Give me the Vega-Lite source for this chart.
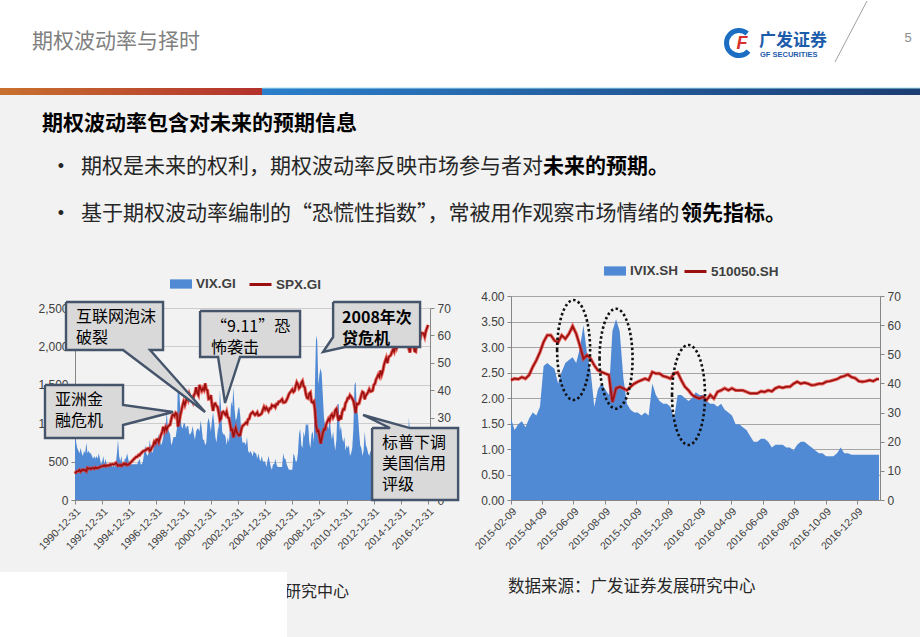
{
"$schema":"https://vega.github.io/schema/vega-lite/v6.json",
"background":"#f2f2f2",
"padding":0,
"spacing":81,
"bounds":"flush",
"config":{"view":{"stroke":null},"font":"Noto Sans CJK SC","axis":{"labelFont":"Liberation Sans","labelColor":"#404040","domainColor":"#868686","tickColor":"#868686","labelFontSize":12,"tickSize":4},"axisX":{"labelOverlap":false},"legend":{"labelFont":"Liberation Sans","labelFontWeight":"bold","labelFontSize":13.5,"labelColor":"#404040"}},
"datasets":{
"spx":[
{"d":"1991-01","s":343,"v":25},{"d":"1991-02","s":367,"v":21},{"d":"1991-03","s":375,"v":19},{"d":"1991-04","s":375,"v":18},{"d":"1991-05","s":390,"v":17},{"d":"1991-06","s":371,"v":19},{"d":"1991-07","s":388,"v":17},{"d":"1991-08","s":395,"v":16},{"d":"1991-09","s":388,"v":18},{"d":"1991-10","s":392,"v":17},{"d":"1991-11","s":375,"v":21},{"d":"1991-12","s":417,"v":17},
{"d":"1992-01","s":409,"v":18},{"d":"1992-02","s":413,"v":17},{"d":"1992-03","s":404,"v":17},{"d":"1992-04","s":415,"v":16},{"d":"1992-05","s":415,"v":15},{"d":"1992-06","s":408,"v":16},{"d":"1992-07","s":424,"v":15},{"d":"1992-08","s":414,"v":16},{"d":"1992-09","s":418,"v":15},{"d":"1992-10","s":419,"v":17},{"d":"1992-11","s":431,"v":15},{"d":"1992-12","s":436,"v":13},
{"d":"1993-01","s":439,"v":14},{"d":"1993-02","s":443,"v":16},{"d":"1993-03","s":452,"v":13},{"d":"1993-04","s":440,"v":15},{"d":"1993-05","s":450,"v":13},{"d":"1993-06","s":451,"v":13},{"d":"1993-07","s":448,"v":12},{"d":"1993-08","s":464,"v":13},{"d":"1993-09","s":459,"v":13},{"d":"1993-10","s":468,"v":12},{"d":"1993-11","s":462,"v":13},{"d":"1993-12","s":466,"v":12},
{"d":"1994-01","s":482,"v":13},{"d":"1994-02","s":467,"v":17},{"d":"1994-03","s":446,"v":22},{"d":"1994-04","s":451,"v":16},{"d":"1994-05","s":457,"v":14},{"d":"1994-06","s":444,"v":16},{"d":"1994-07","s":458,"v":13},{"d":"1994-08","s":475,"v":13},{"d":"1994-09","s":463,"v":15},{"d":"1994-10","s":472,"v":15},{"d":"1994-11","s":454,"v":17},{"d":"1994-12","s":459,"v":15},
{"d":"1995-01","s":470,"v":13},{"d":"1995-02","s":487,"v":13},{"d":"1995-03","s":501,"v":13},{"d":"1995-04","s":515,"v":13},{"d":"1995-05","s":533,"v":13},{"d":"1995-06","s":545,"v":13},{"d":"1995-07","s":562,"v":13},{"d":"1995-08","s":562,"v":13},{"d":"1995-09","s":584,"v":14},{"d":"1995-10","s":582,"v":15},{"d":"1995-11","s":605,"v":13},{"d":"1995-12","s":616,"v":13},
{"d":"1996-01","s":636,"v":14},{"d":"1996-02","s":640,"v":17},{"d":"1996-03","s":646,"v":20},{"d":"1996-04","s":654,"v":17},{"d":"1996-05","s":669,"v":16},{"d":"1996-06","s":671,"v":17},{"d":"1996-07","s":640,"v":22},{"d":"1996-08","s":652,"v":19},{"d":"1996-09","s":687,"v":17},{"d":"1996-10","s":705,"v":18},{"d":"1996-11","s":757,"v":21},{"d":"1996-12","s":741,"v":22},
{"d":"1997-01","s":786,"v":21},{"d":"1997-02","s":791,"v":22},{"d":"1997-03","s":757,"v":24},{"d":"1997-04","s":801,"v":22},{"d":"1997-05","s":848,"v":20},{"d":"1997-06","s":885,"v":21},{"d":"1997-07","s":954,"v":23},{"d":"1997-08","s":899,"v":26},{"d":"1997-09","s":947,"v":24},{"d":"1997-10","s":915,"v":33},{"d":"1997-11","s":955,"v":26},{"d":"1997-12","s":970,"v":25},
{"d":"1998-01","s":980,"v":24},{"d":"1998-02","s":1049,"v":20},{"d":"1998-03","s":1102,"v":21},{"d":"1998-04","s":1112,"v":23},{"d":"1998-05","s":1091,"v":23},{"d":"1998-06","s":1134,"v":23},{"d":"1998-07","s":1121,"v":26},{"d":"1998-08","s":957,"v":44},{"d":"1998-09","s":1017,"v":41},{"d":"1998-10","s":1099,"v":33},{"d":"1998-11","s":1164,"v":27},{"d":"1998-12","s":1229,"v":26},
{"d":"1999-01","s":1280,"v":28},{"d":"1999-02","s":1238,"v":28},{"d":"1999-03","s":1286,"v":26},{"d":"1999-04","s":1335,"v":27},{"d":"1999-05","s":1302,"v":27},{"d":"1999-06","s":1373,"v":24},{"d":"1999-07","s":1329,"v":24},{"d":"1999-08","s":1320,"v":25},{"d":"1999-09","s":1283,"v":27},{"d":"1999-10","s":1363,"v":24},{"d":"1999-11","s":1389,"v":22},{"d":"1999-12","s":1469,"v":25},
{"d":"2000-01","s":1394,"v":26},{"d":"2000-02","s":1366,"v":26},{"d":"2000-03","s":1499,"v":25},{"d":"2000-04","s":1452,"v":29},{"d":"2000-05","s":1421,"v":26},{"d":"2000-06","s":1455,"v":22},{"d":"2000-07","s":1431,"v":22},{"d":"2000-08","s":1518,"v":20},{"d":"2000-09","s":1437,"v":21},{"d":"2000-10","s":1429,"v":28},{"d":"2000-11","s":1315,"v":30},{"d":"2000-12","s":1320,"v":28},
{"d":"2001-01","s":1366,"v":25},{"d":"2001-02","s":1240,"v":29},{"d":"2001-03","s":1160,"v":32},{"d":"2001-04","s":1249,"v":28},{"d":"2001-05","s":1256,"v":23},{"d":"2001-06","s":1224,"v":21},{"d":"2001-07","s":1211,"v":25},{"d":"2001-08","s":1134,"v":27},{"d":"2001-09","s":1041,"v":40},{"d":"2001-10","s":1060,"v":34},{"d":"2001-11","s":1139,"v":25},{"d":"2001-12","s":1148,"v":24},
{"d":"2002-01","s":1130,"v":24},{"d":"2002-02","s":1107,"v":23},{"d":"2002-03","s":1147,"v":20},{"d":"2002-04","s":1077,"v":23},{"d":"2002-05","s":1067,"v":21},{"d":"2002-06","s":990,"v":27},{"d":"2002-07","s":912,"v":36},{"d":"2002-08","s":916,"v":34},{"d":"2002-09","s":815,"v":41},{"d":"2002-10","s":886,"v":33},{"d":"2002-11","s":936,"v":29},{"d":"2002-12","s":880,"v":30},
{"d":"2003-01","s":856,"v":33},{"d":"2003-02","s":841,"v":34},{"d":"2003-03","s":848,"v":31},{"d":"2003-04","s":917,"v":24},{"d":"2003-05","s":964,"v":21},{"d":"2003-06","s":975,"v":21},{"d":"2003-07","s":990,"v":21},{"d":"2003-08","s":1008,"v":20},{"d":"2003-09","s":996,"v":23},{"d":"2003-10","s":1051,"v":18},{"d":"2003-11","s":1058,"v":17},{"d":"2003-12","s":1112,"v":18},
{"d":"2004-01","s":1131,"v":17},{"d":"2004-02","s":1145,"v":16},{"d":"2004-03","s":1126,"v":18},{"d":"2004-04","s":1107,"v":17},{"d":"2004-05","s":1121,"v":17},{"d":"2004-06","s":1141,"v":15},{"d":"2004-07","s":1102,"v":17},{"d":"2004-08","s":1104,"v":15},{"d":"2004-09","s":1115,"v":14},{"d":"2004-10","s":1130,"v":16},{"d":"2004-11","s":1174,"v":14},{"d":"2004-12","s":1212,"v":14},
{"d":"2005-01","s":1181,"v":14},{"d":"2005-02","s":1204,"v":12},{"d":"2005-03","s":1181,"v":14},{"d":"2005-04","s":1157,"v":16},{"d":"2005-05","s":1192,"v":14},{"d":"2005-06","s":1191,"v":12},{"d":"2005-07","s":1234,"v":11},{"d":"2005-08","s":1220,"v":13},{"d":"2005-09","s":1229,"v":13},{"d":"2005-10","s":1207,"v":15},{"d":"2005-11","s":1249,"v":13},{"d":"2005-12","s":1248,"v":12},
{"d":"2006-01","s":1280,"v":12},{"d":"2006-02","s":1281,"v":12},{"d":"2006-03","s":1295,"v":12},{"d":"2006-04","s":1311,"v":12},{"d":"2006-05","s":1270,"v":17},{"d":"2006-06","s":1270,"v":15},{"d":"2006-07","s":1277,"v":15},{"d":"2006-08","s":1304,"v":13},{"d":"2006-09","s":1336,"v":12},{"d":"2006-10","s":1378,"v":11},{"d":"2006-11","s":1401,"v":11},{"d":"2006-12","s":1418,"v":11},
{"d":"2007-01","s":1438,"v":11},{"d":"2007-02","s":1407,"v":17},{"d":"2007-03","s":1421,"v":16},{"d":"2007-04","s":1482,"v":14},{"d":"2007-05","s":1531,"v":14},{"d":"2007-06","s":1503,"v":17},{"d":"2007-07","s":1455,"v":24},{"d":"2007-08","s":1474,"v":26},{"d":"2007-09","s":1527,"v":20},{"d":"2007-10","s":1549,"v":19},{"d":"2007-11","s":1481,"v":25},{"d":"2007-12","s":1468,"v":23},
{"d":"2008-01","s":1379,"v":28},{"d":"2008-02","s":1331,"v":27},{"d":"2008-03","s":1323,"v":28},{"d":"2008-04","s":1386,"v":21},{"d":"2008-05","s":1400,"v":19},{"d":"2008-06","s":1280,"v":24},{"d":"2008-07","s":1267,"v":25},{"d":"2008-08","s":1283,"v":21},{"d":"2008-09","s":1166,"v":42},{"d":"2008-10","s":969,"v":60},{"d":"2008-11","s":896,"v":58},{"d":"2008-12","s":903,"v":42},
{"d":"2009-01","s":826,"v":46},{"d":"2009-02","s":735,"v":48},{"d":"2009-03","s":798,"v":46},{"d":"2009-04","s":873,"v":38},{"d":"2009-05","s":919,"v":30},{"d":"2009-06","s":919,"v":27},{"d":"2009-07","s":987,"v":26},{"d":"2009-08","s":1021,"v":27},{"d":"2009-09","s":1057,"v":26},{"d":"2009-10","s":1036,"v":30},{"d":"2009-11","s":1096,"v":25},{"d":"2009-12","s":1115,"v":22},
{"d":"2010-01","s":1074,"v":25},{"d":"2010-02","s":1104,"v":21},{"d":"2010-03","s":1169,"v":18},{"d":"2010-04","s":1187,"v":22},{"d":"2010-05","s":1089,"v":35},{"d":"2010-06","s":1031,"v":35},{"d":"2010-07","s":1102,"v":25},{"d":"2010-08","s":1049,"v":27},{"d":"2010-09","s":1141,"v":23},{"d":"2010-10","s":1183,"v":21},{"d":"2010-11","s":1181,"v":23},{"d":"2010-12","s":1258,"v":18},
{"d":"2011-01","s":1286,"v":20},{"d":"2011-02","s":1327,"v":19},{"d":"2011-03","s":1326,"v":20},{"d":"2011-04","s":1364,"v":16},{"d":"2011-05","s":1345,"v":17},{"d":"2011-06","s":1321,"v":19},{"d":"2011-07","s":1292,"v":26},{"d":"2011-08","s":1219,"v":42},{"d":"2011-09","s":1131,"v":43},{"d":"2011-10","s":1253,"v":33},{"d":"2011-11","s":1247,"v":31},{"d":"2011-12","s":1258,"v":25},
{"d":"2012-01","s":1312,"v":20},{"d":"2012-02","s":1366,"v":19},{"d":"2012-03","s":1408,"v":16},{"d":"2012-04","s":1398,"v":18},{"d":"2012-05","s":1310,"v":25},{"d":"2012-06","s":1362,"v":20},{"d":"2012-07","s":1379,"v":19},{"d":"2012-08","s":1407,"v":17},{"d":"2012-09","s":1441,"v":16},{"d":"2012-10","s":1412,"v":18},{"d":"2012-11","s":1416,"v":17},{"d":"2012-12","s":1426,"v":20},
{"d":"2013-01","s":1498,"v":14},{"d":"2013-02","s":1515,"v":16},{"d":"2013-03","s":1569,"v":14},{"d":"2013-04","s":1598,"v":15},{"d":"2013-05","s":1631,"v":17},{"d":"2013-06","s":1606,"v":19},{"d":"2013-07","s":1686,"v":14},{"d":"2013-08","s":1633,"v":17},{"d":"2013-09","s":1682,"v":17},{"d":"2013-10","s":1757,"v":16},{"d":"2013-11","s":1806,"v":13},{"d":"2013-12","s":1848,"v":15},
{"d":"2014-01","s":1783,"v":19},{"d":"2014-02","s":1859,"v":15},{"d":"2014-03","s":1872,"v":15},{"d":"2014-04","s":1884,"v":15},{"d":"2014-05","s":1924,"v":12},{"d":"2014-06","s":1960,"v":12},{"d":"2014-07","s":1931,"v":17},{"d":"2014-08","s":2003,"v":13},{"d":"2014-09","s":1972,"v":16},{"d":"2014-10","s":2018,"v":22},{"d":"2014-11","s":2068,"v":13},{"d":"2014-12","s":2059,"v":20},
{"d":"2015-01","s":1995,"v":21},{"d":"2015-02","s":2105,"v":15},{"d":"2015-03","s":2068,"v":16},{"d":"2015-04","s":2086,"v":14},{"d":"2015-05","s":2107,"v":14},{"d":"2015-06","s":2063,"v":18},{"d":"2015-07","s":2104,"v":15},{"d":"2015-08","s":1972,"v":30},{"d":"2015-09","s":1920,"v":25},{"d":"2015-10","s":2079,"v":16},{"d":"2015-11","s":2080,"v":17},{"d":"2015-12","s":2044,"v":19},
{"d":"2016-01","s":1940,"v":23},{"d":"2016-02","s":1932,"v":24},{"d":"2016-03","s":2060,"v":15},{"d":"2016-04","s":2065,"v":16},{"d":"2016-05","s":2097,"v":15},{"d":"2016-06","s":2099,"v":20},{"d":"2016-07","s":2174,"v":13},{"d":"2016-08","s":2171,"v":13},{"d":"2016-09","s":2168,"v":15},{"d":"2016-10","s":2126,"v":19},{"d":"2016-11","s":2199,"v":15},{"d":"2016-12","s":2239,"v":14},
{"d":"2017-01","s":2279,"v":11}
],
"ivix":[
{"d":"2015-02-09","p":2.35,"v":28},{"d":"2015-02-16","p":2.38,"v":24},{"d":"2015-02-23","p":2.37,"v":26},{"d":"2015-03-02","p":2.41,"v":27},{"d":"2015-03-09","p":2.38,"v":25},{"d":"2015-03-16","p":2.45,"v":28},{"d":"2015-03-23","p":2.61,"v":30},{"d":"2015-03-30","p":2.74,"v":29},{"d":"2015-04-06","p":2.90,"v":32},{"d":"2015-04-13","p":3.10,"v":46},{"d":"2015-04-20","p":3.23,"v":47},{"d":"2015-04-27","p":3.23,"v":46},{"d":"2015-05-04","p":3.13,"v":45},{"d":"2015-05-11","p":3.09,"v":40},{"d":"2015-05-18","p":3.23,"v":44},{"d":"2015-05-25","p":3.16,"v":47},{"d":"2015-06-01","p":3.26,"v":48},{"d":"2015-06-08","p":3.41,"v":49},{"d":"2015-06-15","p":3.26,"v":47},{"d":"2015-06-22","p":3.03,"v":52},{"d":"2015-06-29","p":2.77,"v":60},{"d":"2015-07-06","p":2.84,"v":50},{"d":"2015-07-13","p":2.77,"v":44},{"d":"2015-07-20","p":2.64,"v":32},{"d":"2015-07-27","p":2.54,"v":38},{"d":"2015-08-03","p":2.51,"v":40},{"d":"2015-08-10","p":2.48,"v":38},{"d":"2015-08-17","p":2.45,"v":36},{"d":"2015-08-24","p":1.92,"v":58},{"d":"2015-08-31","p":2.19,"v":62},{"d":"2015-09-07","p":2.22,"v":58},{"d":"2015-09-14","p":2.19,"v":42},{"d":"2015-09-21","p":2.15,"v":33},{"d":"2015-09-28","p":2.22,"v":31},{"d":"2015-10-05","p":2.28,"v":30},{"d":"2015-10-12","p":2.32,"v":30},{"d":"2015-10-19","p":2.35,"v":29},{"d":"2015-10-26","p":2.38,"v":30},{"d":"2015-11-02","p":2.35,"v":29},{"d":"2015-11-09","p":2.51,"v":40},{"d":"2015-11-16","p":2.48,"v":36},{"d":"2015-11-23","p":2.48,"v":34},{"d":"2015-11-30","p":2.43,"v":33},{"d":"2015-12-07","p":2.41,"v":33},{"d":"2015-12-14","p":2.38,"v":32},{"d":"2015-12-21","p":2.48,"v":28},{"d":"2015-12-28","p":2.50,"v":36},
{"d":"2016-01-04","p":2.35,"v":36},{"d":"2016-01-11","p":2.22,"v":35},{"d":"2016-01-18","p":2.15,"v":34},{"d":"2016-01-25","p":2.06,"v":35},{"d":"2016-02-01","p":2.02,"v":37},{"d":"2016-02-08","p":1.99,"v":36},{"d":"2016-02-15","p":2.02,"v":36},{"d":"2016-02-22","p":1.96,"v":34},{"d":"2016-02-29","p":2.06,"v":33},{"d":"2016-03-07","p":1.99,"v":33},{"d":"2016-03-14","p":2.12,"v":32},{"d":"2016-03-21","p":2.15,"v":33},{"d":"2016-03-28","p":2.19,"v":31},{"d":"2016-04-04","p":2.15,"v":30},{"d":"2016-04-11","p":2.19,"v":29},{"d":"2016-04-18","p":2.15,"v":26},{"d":"2016-04-25","p":2.15,"v":26},{"d":"2016-05-02","p":2.15,"v":25},{"d":"2016-05-09","p":2.12,"v":24},{"d":"2016-05-16","p":2.09,"v":22},{"d":"2016-05-23","p":2.09,"v":20},{"d":"2016-05-30","p":2.09,"v":20},{"d":"2016-06-06","p":2.13,"v":21},{"d":"2016-06-13","p":2.12,"v":21},{"d":"2016-06-20","p":2.15,"v":20},{"d":"2016-06-27","p":2.13,"v":18},{"d":"2016-07-04","p":2.19,"v":19},{"d":"2016-07-11","p":2.22,"v":19},{"d":"2016-07-18","p":2.20,"v":19},{"d":"2016-07-25","p":2.22,"v":18},{"d":"2016-08-01","p":2.22,"v":18},{"d":"2016-08-08","p":2.28,"v":17},{"d":"2016-08-15","p":2.32,"v":19},{"d":"2016-08-22","p":2.28,"v":20},{"d":"2016-08-29","p":2.30,"v":20},{"d":"2016-09-05","p":2.28,"v":19},{"d":"2016-09-12","p":2.25,"v":18},{"d":"2016-09-19","p":2.26,"v":17},{"d":"2016-09-26","p":2.28,"v":16},{"d":"2016-10-03","p":2.28,"v":16},{"d":"2016-10-10","p":2.32,"v":15},{"d":"2016-10-17","p":2.33,"v":15},{"d":"2016-10-24","p":2.35,"v":15},{"d":"2016-10-31","p":2.37,"v":16},{"d":"2016-11-07","p":2.41,"v":18},{"d":"2016-11-14","p":2.43,"v":16},{"d":"2016-11-21","p":2.46,"v":16},{"d":"2016-11-28","p":2.41,"v":15.5},{"d":"2016-12-05","p":2.39,"v":15.5},{"d":"2016-12-12","p":2.33,"v":15.5},{"d":"2016-12-19","p":2.32,"v":15.5},{"d":"2016-12-26","p":2.33,"v":15.5},{"d":"2017-01-02","p":2.35,"v":15.5},{"d":"2017-01-09","p":2.33,"v":15.5},{"d":"2017-01-16","p":2.37,"v":15.5},{"d":"2017-01-20","p":2.37,"v":15.5}
],
"callouts":[
{"g":1,"o":0,"d":"1990-05-03","s":2578},{"g":1,"o":1,"d":"1997-06-25","s":2578},{"g":1,"o":2,"d":"1997-06-25","s":1953},{"g":1,"o":3,"d":"1996-07-10","s":1953},{"g":1,"o":4,"d":"2000-07-29","s":1146},{"g":1,"o":5,"d":"1994-07-15","s":1953},{"g":1,"o":6,"d":"1990-05-03","s":1953},{"g":1,"o":7,"d":"1990-05-03","s":2578},
{"g":2,"o":0,"d":"2000-03-17","s":2461},{"g":2,"o":1,"d":"2007-07-28","s":2461},{"g":2,"o":2,"d":"2007-07-28","s":1862},{"g":2,"o":3,"d":"2003-02-25","s":1862},{"g":2,"o":4,"d":"2002-01-18","s":1263},{"g":2,"o":5,"d":"2001-07-14","s":1862},{"g":2,"o":6,"d":"2000-03-17","s":1862},{"g":2,"o":7,"d":"2000-03-17","s":2461},
{"g":3,"o":0,"d":"2010-01-02","s":2578},{"g":3,"o":1,"d":"2016-05-29","s":2578},{"g":3,"o":2,"d":"2016-05-29","s":1992},{"g":3,"o":3,"d":"2010-11-20","s":1992},{"g":3,"o":4,"d":"2009-04-07","s":1927},{"g":3,"o":5,"d":"2010-01-02","s":2122},{"g":3,"o":6,"d":"2010-01-02","s":2578},
{"g":4,"o":0,"d":"1988-10-15","s":1497},{"g":4,"o":1,"d":"1994-07-15","s":1497},{"g":4,"o":2,"d":"1994-07-15","s":1237},{"g":4,"o":3,"d":"1998-03-20","s":1146},{"g":4,"o":4,"d":"1994-07-15","s":977},{"g":4,"o":5,"d":"1994-07-15","s":807},{"g":4,"o":6,"d":"1988-10-15","s":807},{"g":4,"o":7,"d":"1988-10-15","s":1497},
{"g":5,"o":0,"d":"2012-11-16","s":937},{"g":5,"o":1,"d":"2014-03-14","s":937},{"g":5,"o":2,"d":"2012-03-18","s":1107},{"g":5,"o":3,"d":"2015-09-03","s":937},{"g":5,"o":4,"d":"2019-03-18","s":937},{"g":5,"o":5,"d":"2019-03-18","s":0},{"g":5,"o":6,"d":"2012-11-16","s":0},{"g":5,"o":7,"d":"2012-11-16","s":937}
],
"notes":[
{"d":"1991-01-28","s":2487,"t":"互联网泡沫\n破裂"},
{"d":"2001-01-07","s":2357,"t":"“9.11”恐\n怖袭击"},
{"d":"1989-07-10","s":1406,"t":"亚洲金\n融危机"},
{"d":"2013-08-11","s":846,"t":"标普下调\n美国信用\n评级"}
],
"notesB":[
{"d":"2010-08-31","s":2474,"t":"2008年次\n贷危机"}
],
"rings":[
{"d":"2015-06-10","p":2.94},{"d":"2015-08-31","p":2.77},{"d":"2016-01-18","p":2.06}
]
},
"resolve":{"scale":{"fill":"independent","stroke":"independent"}},
"hconcat":[
{
"width":355,"height":204,
"resolve":{"scale":{"x":"independent","y":"independent"}},
"layer":[
{
"data":{"values":[{}]},
"layer":[
{"mark":{"type":"rect","fill":"#ffffff"},"encoding":{"x":{"datum":0,"type":"quantitative","scale":{"domain":[0,920],"range":[-75,845],"nice":false,"zero":false},"axis":null},"x2":{"datum":920},"y":{"datum":0,"type":"quantitative","scale":{"domain":[0,637],"range":[-296,341],"nice":false,"zero":false},"axis":null},"y2":{"datum":88}}},
{"mark":{"type":"rect","fill":{"gradient":"linear","x1":0,"y1":0,"x2":1,"y2":0,"stops":[{"offset":0,"color":"#c8712f"},{"offset":1,"color":"#b3302d"}]}},"encoding":{"x":{"datum":0,"type":"quantitative","axis":null},"x2":{"datum":266},"y":{"datum":88,"type":"quantitative","axis":null},"y2":{"datum":95}}},
{"mark":{"type":"rect","fill":{"gradient":"linear","x1":0,"y1":0,"x2":1,"y2":0,"stops":[{"offset":0,"color":"#2b7fcb"},{"offset":1,"color":"#1c3e73"}]}},"encoding":{"x":{"datum":262,"type":"quantitative","axis":null},"x2":{"datum":920},"y":{"datum":88,"type":"quantitative","axis":null},"y2":{"datum":95}}},
{"mark":{"type":"rect","fill":"#a9e6f3"},"encoding":{"x":{"datum":262,"type":"quantitative","axis":null},"x2":{"datum":920},"y":{"datum":87.4,"type":"quantitative","axis":null},"y2":{"datum":88.6}}},
{"mark":{"type":"rule","stroke":"#a0a0a0","strokeWidth":1},"encoding":{"x":{"datum":867,"type":"quantitative","axis":null},"x2":{"datum":835},"y":{"datum":1,"type":"quantitative","axis":null},"y2":{"datum":62}}},
{"mark":{"type":"text","text":"期权波动率与择时","align":"left","baseline":"middle","fontSize":21,"color":"#808080"},"encoding":{"x":{"datum":32,"type":"quantitative","axis":null},"y":{"datum":42,"type":"quantitative","axis":null}}},
{"mark":{"type":"text","text":"5","align":"center","baseline":"middle","fontSize":13,"color":"#8c8c8c","font":"Liberation Sans"},"encoding":{"x":{"datum":908,"type":"quantitative","axis":null},"y":{"datum":38,"type":"quantitative","axis":null}}},
{"mark":{"type":"point","shape":"M0.65,-0.76A1,1,0,1,0,0.76,0.65","size":625,"filled":false,"stroke":"#1b6ec2","strokeWidth":5,"opacity":1},"encoding":{"x":{"datum":739,"type":"quantitative","axis":null},"y":{"datum":43,"type":"quantitative","axis":null}}},
{"mark":{"type":"text","text":"F","align":"center","baseline":"middle","fontSize":18,"fontWeight":"bold","fontStyle":"italic","color":"#d8312a","font":"Liberation Sans"},"encoding":{"x":{"datum":742,"type":"quantitative","axis":null},"y":{"datum":44,"type":"quantitative","axis":null}}},
{"mark":{"type":"text","text":"广发证券","align":"left","baseline":"middle","fontSize":17,"fontWeight":"bold","color":"#1d5cab"},"encoding":{"x":{"datum":759,"type":"quantitative","axis":null},"y":{"datum":41,"type":"quantitative","axis":null}}},
{"mark":{"type":"text","text":"GF SECURITIES","align":"left","baseline":"middle","fontSize":7.5,"fontWeight":"bold","color":"#1d5cab","font":"Liberation Sans"},"encoding":{"x":{"datum":760,"type":"quantitative","axis":null},"y":{"datum":55,"type":"quantitative","axis":null}}},
{"mark":{"type":"text","text":"期权波动率包含对未来的预期信息","align":"left","baseline":"middle","fontSize":21,"fontWeight":"bold","color":"#000000"},"encoding":{"x":{"datum":42,"type":"quantitative","axis":null},"y":{"datum":124,"type":"quantitative","axis":null}}},
{"mark":{"type":"text","text":"•","align":"center","baseline":"middle","fontSize":18,"color":"#262626","font":"Liberation Sans"},"encoding":{"x":{"datum":61,"type":"quantitative","axis":null},"y":{"datum":167,"type":"quantitative","axis":null}}},
{"mark":{"type":"text","text":"•","align":"center","baseline":"middle","fontSize":18,"color":"#262626","font":"Liberation Sans"},"encoding":{"x":{"datum":61,"type":"quantitative","axis":null},"y":{"datum":214,"type":"quantitative","axis":null}}},
{"mark":{"type":"text","text":"期权是未来的权利，期权波动率反映市场参与者对","align":"left","baseline":"middle","fontSize":21,"color":"#262626"},"encoding":{"x":{"datum":81,"type":"quantitative","axis":null},"y":{"datum":167,"type":"quantitative","axis":null}}},
{"mark":{"type":"text","text":"未来的预期。","align":"left","baseline":"middle","fontSize":21,"fontWeight":"bold","color":"#000000"},"encoding":{"x":{"datum":543,"type":"quantitative","axis":null},"y":{"datum":167,"type":"quantitative","axis":null}}},
{"mark":{"type":"text","text":"基于期权波动率编制的“恐慌性指数”，常被用作观察市场情绪的","align":"left","baseline":"middle","fontSize":21,"color":"#262626"},"encoding":{"x":{"datum":81,"type":"quantitative","axis":null},"y":{"datum":214,"type":"quantitative","axis":null}}},
{"mark":{"type":"text","text":"领先指标。","align":"left","baseline":"middle","fontSize":21,"fontWeight":"bold","color":"#000000"},"encoding":{"x":{"datum":681,"type":"quantitative","axis":null},"y":{"datum":214,"type":"quantitative","axis":null}}},
{"mark":{"type":"text","text":"数据来源：广发证券发展研究中心","align":"right","baseline":"middle","fontSize":16,"color":"#262626"},"encoding":{"x":{"datum":349,"type":"quantitative","axis":null},"y":{"datum":592,"type":"quantitative","axis":null}}},
{"mark":{"type":"rect","fill":"#ffffff"},"encoding":{"x":{"datum":0,"type":"quantitative","axis":null},"x2":{"datum":287},"y":{"datum":572,"type":"quantitative","axis":null},"y2":{"datum":637}}},
{"mark":{"type":"text","text":"数据来源：广发证券发展研究中心","align":"left","baseline":"middle","fontSize":16.5,"color":"#262626"},"encoding":{"x":{"datum":508,"type":"quantitative","axis":null},"y":{"datum":587,"type":"quantitative","axis":null}}}
]
},
{
"resolve":{"scale":{"y":"independent"}},
"layer":[
{"data":{"name":"spx"},"mark":{"type":"area"},"encoding":{
"x":{"field":"d","type":"temporal","title":null,"scale":{"type":"utc","domain":[{"year":1990,"month":12,"date":31,"utc":true},{"year":2017,"month":2,"date":20,"utc":true}]},"axis":{"values":[{"year":1990,"month":12,"date":31,"utc":true},{"year":1992,"month":12,"date":31,"utc":true},{"year":1994,"month":12,"date":31,"utc":true},{"year":1996,"month":12,"date":31,"utc":true},{"year":1998,"month":12,"date":31,"utc":true},{"year":2000,"month":12,"date":31,"utc":true},{"year":2002,"month":12,"date":31,"utc":true},{"year":2004,"month":12,"date":31,"utc":true},{"year":2006,"month":12,"date":31,"utc":true},{"year":2008,"month":12,"date":31,"utc":true},{"year":2010,"month":12,"date":31,"utc":true},{"year":2012,"month":12,"date":31,"utc":true},{"year":2014,"month":12,"date":31,"utc":true},{"year":2016,"month":12,"date":31,"utc":true}],"tickCount":40,"format":"%Y-%m-%d","labelAngle":-45,"labelFontSize":10.5,"labelOverlap":false,"labelFlush":false,"labelPadding":2,"grid":false}},
"y":{"field":"v","type":"quantitative","title":null,"scale":{"domain":[0,70],"range":[204,12],"nice":false},"axis":{"orient":"right","values":[0,10,20,30,40,50,60,70],"tickCount":20,"grid":false,"labelPadding":3}},
"fill":{"datum":"VIX.GI","type":"nominal","scale":{"range":["#5089d4"]},"legend":{"orient":"none","legendX":94,"legendY":-24,"title":null,"symbolType":"M-1,-0.42H1V0.42H-1Z","symbolSize":484,"labelOffset":3}}
}},
{"layer":[
{"data":{"name":"spx"},"mark":{"type":"line","stroke":"#e3362c","strokeWidth":3.4,"opacity":0.75},"encoding":{"x":{"field":"d","type":"temporal","title":null,"scale":{"type":"utc"}},"y":{"field":"s","type":"quantitative","title":null,"scale":{"domain":[0,2500],"range":[204,12],"nice":false},"axis":{"orient":"left","values":[0,500,1000,1500,2000,2500],"tickCount":20,"format":",d","grid":true,"gridColor":"#cccccc","labelPadding":3}}}},
{"data":{"name":"spx"},"mark":{"type":"line","strokeWidth":1.6},"encoding":{"x":{"field":"d","type":"temporal","title":null,"scale":{"type":"utc"}},"y":{"field":"s","type":"quantitative","title":null},"stroke":{"datum":"SPX.GI","type":"nominal","scale":{"range":["#9a0f0f"]},"legend":{"orient":"none","legendX":173,"legendY":-24,"title":null,"symbolType":"stroke","symbolSize":484,"symbolStrokeWidth":3,"labelOffset":3}}}},
{"data":{"name":"callouts"},"mark":{"type":"line","fill":"#d9d9d9","stroke":"#44546a","strokeWidth":2.4},"encoding":{"x":{"field":"d","type":"temporal","title":null,"scale":{"type":"utc"}},"y":{"field":"s","type":"quantitative","title":null},"detail":{"field":"g","type":"nominal"},"order":{"field":"o","type":"quantitative"}}},
{"data":{"name":"notes"},"mark":{"type":"text","align":"left","baseline":"top","fontSize":16,"lineBreak":"\n","lineHeight":21,"color":"#000000"},"encoding":{"x":{"field":"d","type":"temporal","title":null,"scale":{"type":"utc"}},"y":{"field":"s","type":"quantitative","title":null},"text":{"field":"t"}}},
{"data":{"name":"notesB"},"mark":{"type":"text","align":"left","baseline":"top","fontSize":16,"fontWeight":"bold","lineBreak":"\n","lineHeight":21,"color":"#000000"},"encoding":{"x":{"field":"d","type":"temporal","title":null,"scale":{"type":"utc"}},"y":{"field":"s","type":"quantitative","title":null},"text":{"field":"t"}}}
]}
]
}
]
},
{
"width":369,"height":204,
"resolve":{"scale":{"y":"independent"}},
"layer":[
{"data":{"name":"ivix"},"mark":{"type":"area"},"encoding":{
"x":{"field":"d","type":"temporal","title":null,"scale":{"type":"utc","domain":[{"year":2015,"month":2,"date":9,"utc":true},{"year":2017,"month":1,"date":22,"utc":true}]},"axis":{"values":[{"year":2015,"month":2,"date":9,"utc":true},{"year":2015,"month":4,"date":9,"utc":true},{"year":2015,"month":6,"date":9,"utc":true},{"year":2015,"month":8,"date":9,"utc":true},{"year":2015,"month":10,"date":9,"utc":true},{"year":2015,"month":12,"date":9,"utc":true},{"year":2016,"month":2,"date":9,"utc":true},{"year":2016,"month":4,"date":9,"utc":true},{"year":2016,"month":6,"date":9,"utc":true},{"year":2016,"month":8,"date":9,"utc":true},{"year":2016,"month":10,"date":9,"utc":true},{"year":2016,"month":12,"date":9,"utc":true}],"tickCount":40,"format":"%Y-%m-%d","labelAngle":-45,"labelFontSize":10.5,"labelOverlap":false,"labelFlush":false,"labelPadding":2,"grid":false}},
"y":{"field":"v","type":"quantitative","title":null,"scale":{"domain":[0,70],"nice":false},"axis":{"orient":"right","values":[0,10,20,30,40,50,60,70],"tickCount":20,"grid":false,"labelPadding":3}},
"fill":{"datum":"IVIX.SH","type":"nominal","scale":{"range":["#5089d4"]},"legend":{"orient":"none","legendX":92,"legendY":-37,"title":null,"symbolType":"M-1,-0.42H1V0.42H-1Z","symbolSize":484,"labelOffset":3}}
}},
{"layer":[
{"data":{"name":"ivix"},"mark":{"type":"line","stroke":"#e3362c","strokeWidth":3.4,"opacity":0.75},"encoding":{"x":{"field":"d","type":"temporal","title":null,"scale":{"type":"utc"}},"y":{"field":"p","type":"quantitative","title":null,"scale":{"domain":[0,4],"nice":false},"axis":{"orient":"left","values":[0,0.5,1,1.5,2,2.5,3,3.5,4],"tickCount":20,"format":".2f","grid":true,"gridColor":"#a6a6a6","labelPadding":3}}}},
{"data":{"name":"ivix"},"mark":{"type":"line","strokeWidth":1.6},"encoding":{"x":{"field":"d","type":"temporal","title":null,"scale":{"type":"utc"}},"y":{"field":"p","type":"quantitative","title":null},"stroke":{"datum":"510050.SH","type":"nominal","scale":{"range":["#9a0f0f"]},"legend":{"orient":"none","legendX":172,"legendY":-37,"title":null,"symbolType":"stroke","symbolSize":484,"symbolStrokeWidth":3,"labelOffset":3}}}},
{"data":{"name":"rings"},"mark":{"type":"point","shape":"M-0.33,0A0.33,1,0,1,1,0.33,0A0.33,1,0,1,1,-0.33,0Z","size":10000,"filled":false,"stroke":"#111111","strokeWidth":2.6,"strokeDash":[2.5,2.5],"opacity":1},"encoding":{"x":{"field":"d","type":"temporal","title":null,"scale":{"type":"utc"}},"y":{"field":"p","type":"quantitative","title":null}}}
]}
]
}
]
}
